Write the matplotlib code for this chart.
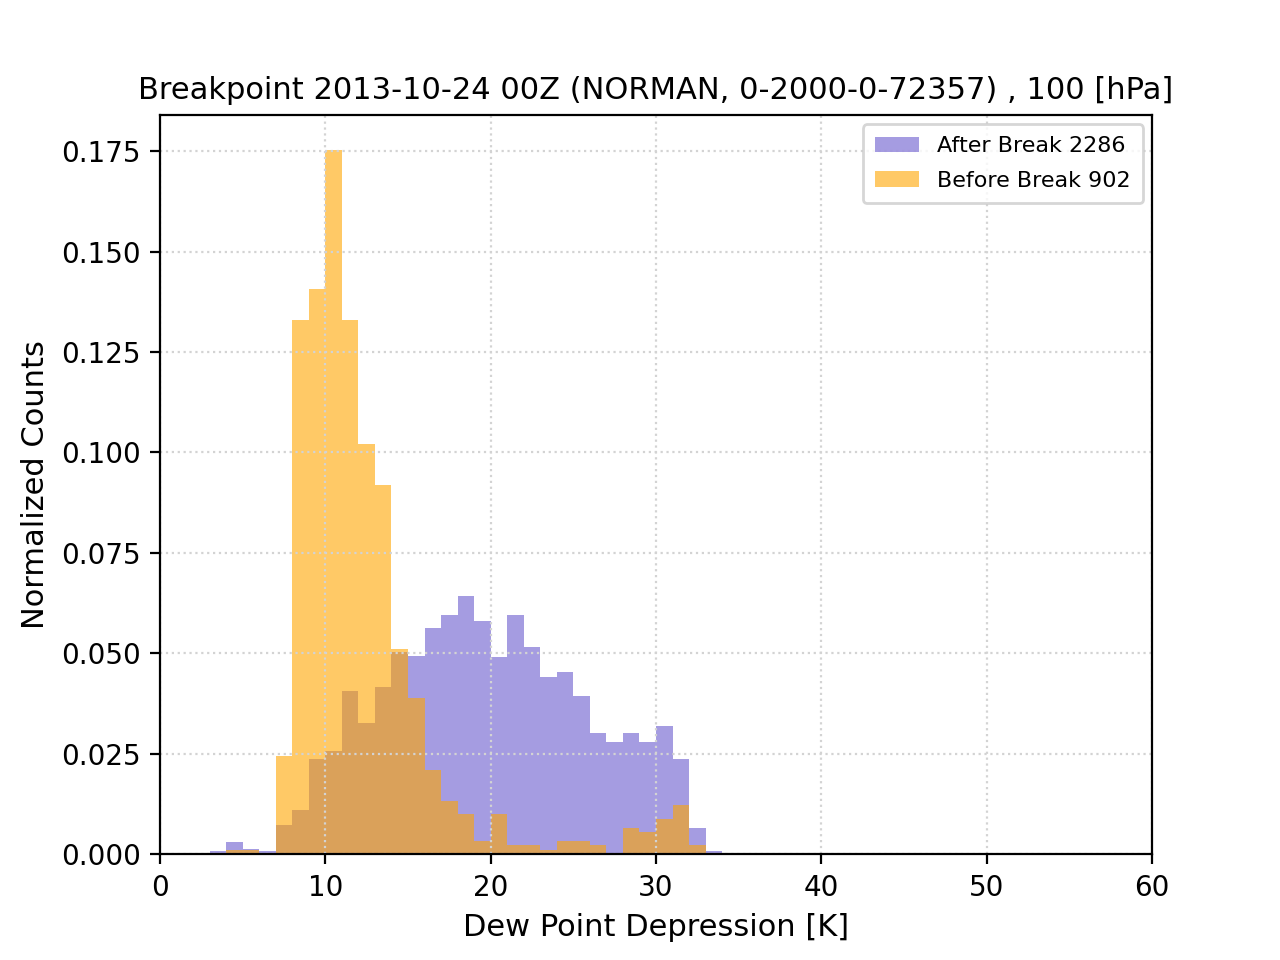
import numpy as np
import matplotlib
matplotlib.use('Agg')
import matplotlib.pyplot as plt

# histogram bins of 1 K, counts (bin left edges)
after_bins = [3, 4, 5, 6, 7, 8, 9, 10, 11, 12, 13, 14, 15, 16, 17, 18, 19, 20, 21, 22, 23,
              24, 25, 26, 27, 28, 29, 30, 31, 32, 33]
after_counts = [2, 7, 3, 2, 17, 25, 54, 59, 93, 75, 95, 115, 113, 129, 136, 147, 133, 112,
                136, 118, 101, 104, 90, 69, 64, 69, 64, 73, 54, 15, 2]
after_total = 2286

before_bins = [4, 5, 7, 8, 9, 10, 11, 12, 13, 14, 15, 16, 17, 18, 19, 20, 21, 22, 23, 24,
               25, 26, 27, 28, 29, 30, 31, 32]
before_counts = [1, 1, 22, 120, 127, 158, 120, 92, 83, 46, 35, 19, 12, 9, 3, 9, 2, 2, 1, 3,
                 3, 2, 0, 6, 5, 8, 11, 2]
before_total = 902

title = 'Breakpoint 2013-10-24 00Z (NORMAN, 0-2000-0-72357) , 100 [hPa]'

edges = np.arange(0, 61, 1)

fig, ax = plt.subplots(figsize=(6.4, 4.8), dpi=200)

ax.hist(after_bins, bins=edges, weights=np.array(after_counts) / after_total,
        color='slateblue', alpha=0.6, label='After Break %d' % after_total)
ax.hist(before_bins, bins=edges, weights=np.array(before_counts) / before_total,
        color='orange', alpha=0.6, label='Before Break %d' % before_total)

ax.set_xlim(0, 60)
ax.grid(linestyle=':', color='lightgray')
ax.set_xlabel('Dew Point Depression [K]', fontsize=11)
ax.set_ylabel('Normalized Counts', fontsize=11)
ax.set_title(title, fontsize=11)
ax.legend(loc='upper right', fontsize=8, labelspacing=0.65, borderpad=0.55,
          borderaxespad=0.4)

fig.savefig('out.png', dpi=200)
